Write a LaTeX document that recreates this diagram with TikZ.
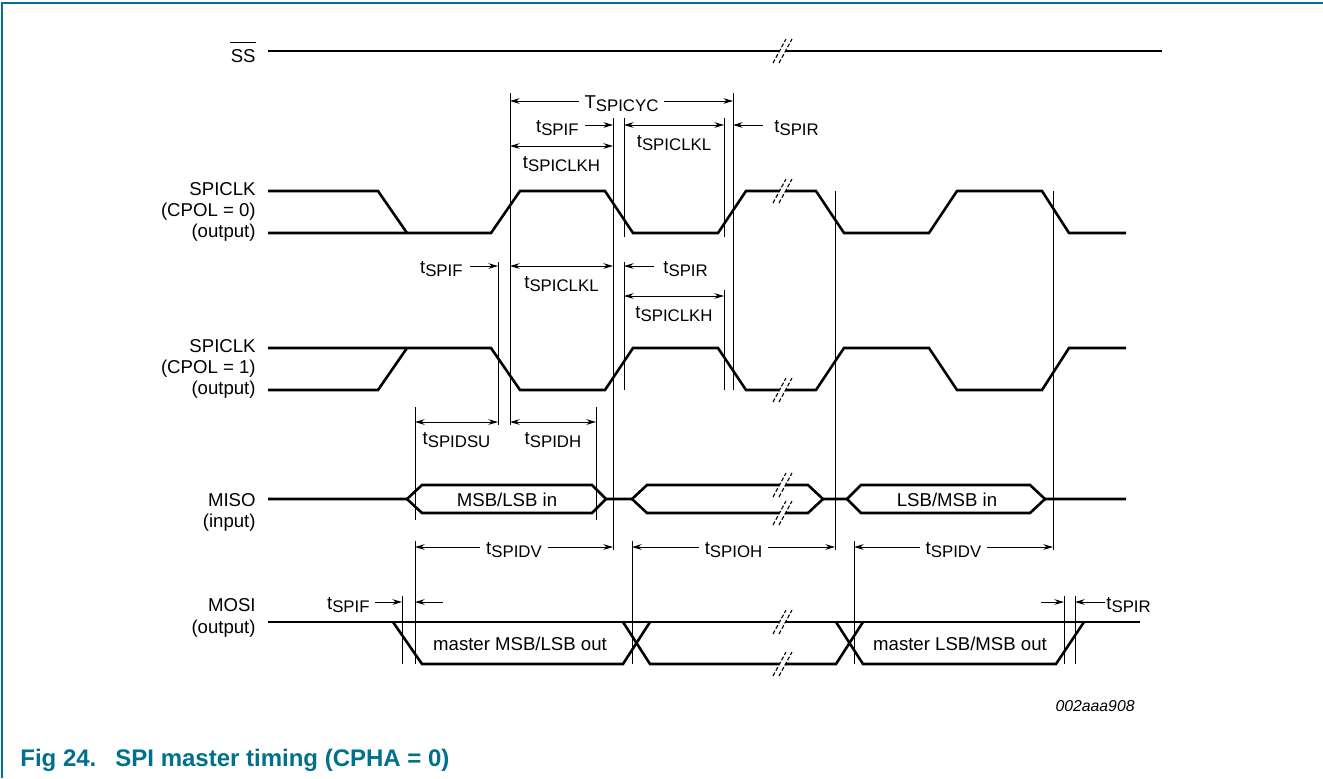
\documentclass[tikz,border=0pt]{standalone}
\usepackage{fontspec}
\setmainfont{Liberation Sans}
\usetikzlibrary{arrows.meta}
\definecolor{figteal}{RGB}{0,112,140}
\newcommand{\tsub}[2]{#1\raisebox{-1.5pt}{\fontsize{8.4}{9}\selectfont #2}}

\begin{document}
\begin{tikzpicture}[x=0.5pt,y=-0.5pt,>={Stealth[length=4.8pt,width=2.8pt]},
                    sig/.style={line width=1.3pt},
                    guide/.style={line width=0.45pt},
                    dim/.style={line width=0.45pt},
                    lbl/.style={font=\fontsize{9.3}{11}\selectfont,inner sep=0pt},
                    inlbl/.style={lbl,fill=white,inner xsep=3pt,anchor=base,yshift=-3.5pt},
                    belowlbl/.style={lbl,anchor=base,yshift=-11pt},
                    brk/.pic={\fill[white] (-10,12)--(-4,12)--(9,-12)--(3,-12)--cycle;
                              \draw[line width=0.55pt,dash pattern=on 2pt off 1pt] (-10,12)--(3,-12) (-4,12)--(9,-12);}]
\useasboundingbox (0,0) rectangle (1323,778);

% frame and caption
\draw[figteal,line width=0.8pt] (1323,3) -- (2,3) -- (2,778);
\node[anchor=base west,inner sep=0pt,text=figteal,font=\fontsize{12}{14}\selectfont\bfseries] (caption) at (20,766) {Fig 24.\hspace{9.5pt}SPI master timing (CPHA = 0)};
\node[anchor=base east,inner sep=0pt,font=\fontsize{7.9}{9}\selectfont\itshape] (figcode) at (1135,711) {002aaa908};

% signal names
\node[lbl,anchor=base east] (ss) at (256,62) {SS};
\draw[guide] ([yshift=3.1pt]ss.north west) -- ([yshift=3.1pt]ss.north east);
\node[lbl,anchor=base east] (clka1) at (256,195) {SPICLK};
\node[lbl,anchor=base east] (clka2) at (256,216) {(CPOL = 0)};
\node[lbl,anchor=base east] (clka3) at (256,237) {(output)};
\node[lbl,anchor=base east] (clkb1) at (256,352) {SPICLK};
\node[lbl,anchor=base east] (clkb2) at (256,373) {(CPOL = 1)};
\node[lbl,anchor=base east] (clkb3) at (256,394) {(output)};
\node[lbl,anchor=base east] (miso1) at (256,506) {MISO};
\node[lbl,anchor=base east] (miso2) at (256,527) {(input)};
\node[lbl,anchor=base east] (mosi1) at (256,611) {MOSI};
\node[lbl,anchor=base east] (mosi2) at (256,633) {(output)};

% SS
\draw[sig] (268,51) -- (1162,51);

% SPICLK, CPOL = 0
\draw[sig] (268,191) -- (378,191) -- (407,233);
\draw[sig] (268,233) -- (491,233) -- (520,191) -- (605,191) -- (633,233) -- (718,233) -- (746,191) -- (816,191)
  -- (844,233) -- (929,233) -- (957,191) -- (1042,191) -- (1069,233) -- (1126,233);

% SPICLK, CPOL = 1
\draw[sig] (268,390) -- (378,390) -- (407,348);
\draw[sig] (268,348) -- (491,348) -- (520,390) -- (605,390) -- (633,348) -- (718,348) -- (746,390) -- (816,390)
  -- (844,348) -- (929,348) -- (957,390) -- (1042,390) -- (1069,348) -- (1126,348);

% MISO
\draw[sig] (268,499) -- (407,499) -- (422,485) -- (592,485) -- (606,499) -- (632,499) -- (647,485) -- (808,485)
  -- (823,499) -- (847,499) -- (861,485) -- (1030,485) -- (1045,499) -- (1126,499);
\draw[sig] (407,499) -- (422,513) -- (592,513) -- (606,499);
\draw[sig] (632,499) -- (647,513) -- (808,513) -- (823,499);
\draw[sig] (847,499) -- (861,513) -- (1030,513) -- (1045,499);
\node[lbl,anchor=base] (misoa) at (507,506) {MSB/LSB in};
\node[lbl,anchor=base] (misob) at (947,506) {LSB/MSB in};

% MOSI
\draw[sig] (268,622) -- (1140,622);
\draw[sig] (393,622) -- (422,664) -- (623,664) -- (650,622);
\draw[sig] (623,622) -- (650,664) -- (836,664) -- (863,622);
\draw[sig] (836,622) -- (863,664) -- (1056,664) -- (1084,622);
\node[lbl,anchor=base] (mosia) at (520,650) {master MSB/LSB out};
\node[lbl,anchor=base] (mosib) at (960,650) {master LSB/MSB out};

% breaks
\pic at (783,51) {brk};
\pic at (783,191) {brk};
\pic at (783,390) {brk};
\pic at (783,485) {brk};
\pic at (783,513) {brk};
\pic at (783,622) {brk};
\pic at (783,664) {brk};

% guide lines
\draw[guide] (510,93) -- (510,425);
\draw[guide] (613,118) -- (613,550);
\draw[guide] (624,118) -- (624,237) (624,262) -- (624,390);
\draw[guide] (724,118) -- (724,237) (724,290) -- (724,390);
\draw[guide] (733,93) -- (733,390);
\draw[guide] (835,191) -- (835,550);
\draw[guide] (1053,191) -- (1053,550);
\draw[guide] (498,262) -- (498,425);
\draw[guide] (415,407) -- (415,520) (415,541) -- (415,664);
\draw[guide] (596,407) -- (596,520);
\draw[guide] (402,596) -- (402,664);
\draw[guide] (632,541) -- (632,664);
\draw[guide] (854,541) -- (854,664);
\draw[guide] (1064,596) -- (1064,664);
\draw[guide] (1075,596) -- (1075,664);

% timing, top
\draw[dim,<->] (510,101) -- node[inlbl] (tcyc) {\tsub{T}{SPICYC}} (733,101);
\draw[dim,->] (585,125) -- (613,125);
\node[lbl,anchor=base east] (tspifa) at (579,132) {\tsub{t}{SPIF}};
\draw[dim,<->] (510,146) -- node[belowlbl] (tclkha) {\tsub{t}{SPICLKH}} (613,146);
\draw[dim,<->] (624,125) -- node[belowlbl] (tclkla) {\tsub{t}{SPICLKL}} (724,125);
\draw[dim,->] (763,125) -- (733,125);
\node[lbl,anchor=base west] (tspira) at (774,132) {\tsub{t}{SPIR}};

% timing, middle
\draw[dim,->] (470,266) -- (498,266);
\node[lbl,anchor=base east] (tspifb) at (463,273) {\tsub{t}{SPIF}};
\draw[dim,<->] (510,266) -- node[belowlbl] (tclklb) {\tsub{t}{SPICLKL}} (613,266);
\draw[dim,->] (654,266) -- (624,266);
\node[lbl,anchor=base west] (tspirb) at (663,273) {\tsub{t}{SPIR}};
\draw[dim,<->] (624,296) -- node[belowlbl] (tclkhb) {\tsub{t}{SPICLKH}} (724,296);
\draw[dim,<->] (415,422) -- node[belowlbl] (tdsu) {\tsub{t}{SPIDSU}} (498,422);
\draw[dim,<->] (510,422) -- node[belowlbl] (tdh) {\tsub{t}{SPIDH}} (596,422);

% timing, MISO
\draw[dim,<->] (415,547) -- node[inlbl] (tdva) {\tsub{t}{SPIDV}} (613,547);
\draw[dim,<->] (632,547) -- node[inlbl] (toh) {\tsub{t}{SPIOH}} (835,547);
\draw[dim,<->] (854,547) -- node[inlbl] (tdvb) {\tsub{t}{SPIDV}} (1053,547);

% timing, MOSI
\draw[dim,->] (375,602) -- (402,602);
\node[lbl,anchor=base east] (tspifc) at (370,609) {\tsub{t}{SPIF}};
\draw[dim,->] (443,602) -- (415,602);
\draw[dim,->] (1041,602) -- (1064,602);
\draw[dim,->] (1105,602) -- (1075,602);
\node[lbl,anchor=base west] (tspirc) at (1106,609) {\tsub{t}{SPIR}};
\end{tikzpicture}
\end{document}
